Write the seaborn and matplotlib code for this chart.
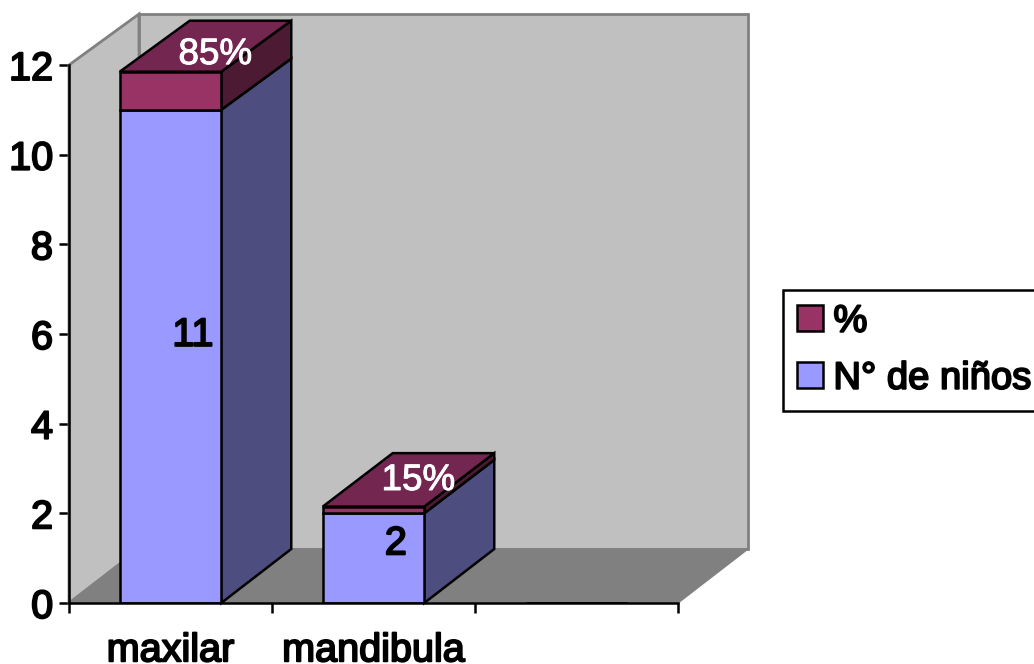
import numpy as np
import seaborn as sns
import matplotlib.pyplot as plt
import matplotlib.patheffects as pe
from matplotlib.patches import Polygon

categories = ["maxilar", "mandibula", " "]
ninos = [11, 2, 0]
pct = [0.85, 0.15, 0]
ninos_labels = ["11", "2"]
pct_labels = ["85%", "15%"]
yticks = [0, 2, 4, 6, 8, 10, 12]

FRONT_LOW = "#9999ff"
SIDE_LOW = "#4d4d80"
FRONT_UP = "#993366"
SIDE_UP = "#4d1a33"
TOP_UP = "#732650"

W, H = 1034, 664
sns.set_theme(style="white")
plt.rcParams['font.family'] = ['Liberation Sans', 'DejaVu Sans']

fig = plt.figure(figsize=(W / 100, H / 100), dpi=100)
ax = fig.add_axes([69 / W, 1 - 603 / H, 609 / W, 538 / H])

# depth of the fake 3d box, in data units
dx = 70 / 203
dy = 54 / (538 / 12)
squeeze = 535 / 538  # back plane is a touch shorter
bar_w = 0.5
line = dict(edgecolor="black", linewidth=1.8)
fs = 28.5


def back(v):
    return dy + v * squeeze


def poly(pts, fc, ec="black", lw=1.8, z=3):
    ax.add_patch(Polygon(pts, closed=True, facecolor=fc, edgecolor=ec, linewidth=lw,
                         zorder=z, clip_on=False, joinstyle="miter"))


def thicken(t, color="black", w=1.4):
    # the original text sits between regular and bold
    t.set_path_effects([pe.withStroke(linewidth=w, foreground=color)])


sns.barplot(x=categories, y=ninos, color=FRONT_LOW, width=bar_w, saturation=1,
            label="N\u00b0 de ni\u00f1os", ax=ax, zorder=5, **line)
sns.barplot(x=categories, y=pct, bottom=ninos, color=FRONT_UP, width=bar_w, saturation=1,
            label="%", ax=ax, zorder=5, **line)
h, l = ax.get_legend_handles_labels()
ax.get_legend().remove()

ax.set_xlim(-0.5, 2.5)
ax.set_ylim(0, 12)

# walls and floor
x0, x1 = -0.5, 2.5
poly([(x0, 0), (x0 + dx, back(0)), (x0 + dx, back(12)), (x0, 12)], "#c0c0c0", "#808080", 2, 1)
poly([(x0 + dx, back(0)), (x1 + dx, back(0)), (x1 + dx, back(12)), (x0 + dx, back(12))], "#c0c0c0", "#808080", 2, 1)
poly([(x0, 0), (x1, 0), (x1 + dx, back(0)), (x0 + dx, back(0))], "#808080", "#808080", 1, 1.5)

# sides and tops of the bars, built from the values
for i in range(2):
    left = i - bar_w / 2
    right = i + bar_w / 2
    low = ninos[i]
    top = ninos[i] + pct[i]
    poly([(right, 0), (right + dx, back(0)), (right + dx, back(low)), (right, low)], SIDE_LOW)
    poly([(right, low), (right + dx, back(low)), (right + dx, back(top)), (right, top)], SIDE_UP)
    poly([(left, top), (right, top), (right + dx, back(top)), (left + dx, back(top))], TOP_UP)
    # excel puts the labels a bit above the middle, more on the tall bar
    t = ax.text(i + 0.11, low / 2 + (0.48 if i == 0 else 0.33), ninos_labels[i], ha="center", va="center",
                fontsize=fs, color="black", zorder=8)
    thicken(t)
    t = ax.text(i + 0.22, top + dy / 2 - (0.22 if i == 0 else 0.02), pct_labels[i], ha="center", va="center",
                fontsize=26.5, color="white", zorder=8, clip_on=False)
    thicken(t, "white", 0.7)

for s in ["top", "right"]:
    ax.spines[s].set_visible(False)
for s in ["left", "bottom"]:
    ax.spines[s].set_linewidth(1.8)
    ax.spines[s].set_color("black")
    ax.spines[s].set_zorder(6)

ax.set_yticks(yticks)
ax.set_xticks([-0.5, 0.5, 1.5, 2.5])
ax.set_xticklabels([])
ax.tick_params(axis="both", which="major", left=True, bottom=True, length=7.5, width=1.8, color="black",
               labelsize=fs, labelcolor="black", pad=4, direction="out")
ax.tick_params(axis="y", pad=4)
for t in ax.get_yticklabels():
    thicken(t)
for i in range(2):
    t = ax.text(i, -1.3, categories[i], ha="center", va="baseline", fontsize=fs, color="black", clip_on=False)
    thicken(t)

leg = fig.legend(h[::-1], l[::-1], loc="upper left", bbox_to_anchor=(783 / W, 1 - 290 / H),
                 bbox_transform=fig.transFigure, fontsize=27.5, frameon=True, fancybox=False, framealpha=1,
                 edgecolor="black", handlelength=0.68, handleheight=0.68, handletextpad=0.28, labelspacing=0.55,
                 borderpad=0.36, borderaxespad=0, labelcolor="black")
leg.get_frame().set_linewidth(1.8)
for t in leg.get_texts():
    thicken(t)

fig.savefig("out.png", dpi=100, facecolor="white")
